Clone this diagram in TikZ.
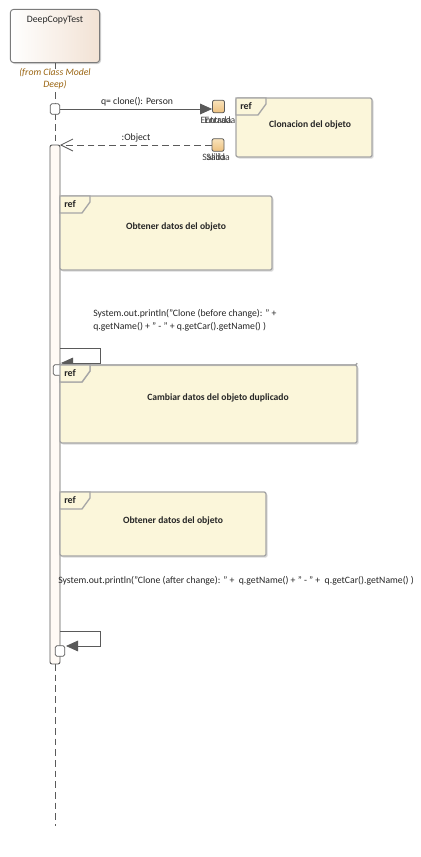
\documentclass[tikz,border=0pt]{standalone}
\usepackage{fontspec}
\setmainfont{Carlito}
\usetikzlibrary{arrows.meta,shadows}
\definecolor{refFill}{HTML}{FBF6DA}
\definecolor{refLine}{HTML}{A6A6A6}
\definecolor{lineC}{HTML}{5A5A5A}
\definecolor{hdrA}{HTML}{FFFFFF}
\definecolor{hdrB}{HTML}{F2E2D4}
\definecolor{gateA}{HTML}{F9E3BB}
\definecolor{gateB}{HTML}{EDC07E}
\definecolor{noteC}{HTML}{9A6410}
\definecolor{actFill}{HTML}{FFFAF5}
\definecolor{txtC}{HTML}{262626}
\tikzset{
  px/.style={x=0.75pt,y=-0.75pt},
  lbl/.style={font=\fontsize{7.3}{9}\selectfont,text=txtC,inner sep=0pt},
  reftitle/.style={font=\fontsize{7.2}{9}\selectfont\bfseries,text=txtC,inner sep=0pt},
  refbox/.style={draw=refLine,line width=1pt,fill=refFill,rounded corners=1.5pt,
     drop shadow={shadow xshift=1.2pt,shadow yshift=-1.2pt,opacity=0.35,fill=black!40}},
  gatebox/.style={draw=lineC,line width=0.6pt,rounded corners=1.5pt,top color=gateA,bottom color=gateB,minimum width=9pt,minimum height=9.5pt,inner sep=0pt},
  smallsq/.style={draw=lineC,line width=0.6pt,fill=white,rounded corners=1.2pt,minimum width=7pt,minimum height=8pt,inner sep=0pt},
  msg/.style={draw=lineC,line width=0.6pt},
}
\newcommand{\refframe}[5]{% name, x1,y1,x2,y2
  \draw[refbox] (#2,#3) rectangle (#4,#5);
  \draw[refLine,line width=1pt,fill=refFill] (#2,#3) -- (#2+30,#3) -- (#2+30,#3+6) -- (#2+22,#3+17) -- (#2,#3+17) -- cycle;
  \node[lbl,anchor=west,font=\fontsize{7.5}{9}\selectfont\bfseries] at (#2+4,#3+8.5) {ref};
}
\begin{document}
\begin{tikzpicture}[px]
\useasboundingbox (0,0) rectangle (421,857);
\fill[white] (0,0) rectangle (421,857);
% header
\node[draw=lineC!80,line width=0.7pt,rounded corners=2.5pt,left color=hdrA,right color=hdrB,
  minimum width=67pt,minimum height=40pt,inner sep=0pt,
  drop shadow={shadow xshift=1pt,shadow yshift=-1pt,opacity=0.35}] (hdr) at (55,36) {};
\node[lbl,anchor=north] (hdrt) at (55,16) {DeepCopyTest};
\node[lbl,text=noteC,font=\fontsize{7.3}{9}\selectfont\itshape,align=center] (from) at (55,79) {(from Class Model\\[0pt]Deep)};
% lifeline
\draw[lineC,line width=0.7pt] (hdr.south) -- (55,69);
\draw[lineC,line width=0.7pt,dash pattern=on 5pt off 3pt] (55,92) -- (55,145);
\draw[lineC,line width=0.7pt,dash pattern=on 5pt off 3pt] (55,664) -- (55,826);
% activation bar
\draw[lineC,line width=0.7pt,fill=actFill,rounded corners=1.5pt] (50,145) rectangle (60,664);
\coordinate (actTop) at (60,145);
% first message
\node[smallsq] (s1) at (55,109) {};
\node[gatebox] (g1) at (218.5,106.5) {};
\node[gatebox] (g2) at (218,145) {};
\draw[msg,-{Triangle[length=9pt,width=8pt]}] (s1.east) -- (s1.east -| g1.west);
\node[lbl,anchor=south] (m1) at (137,106) {q= clone(): Person};
\node[lbl,anchor=north,text=black!75] (e1) at (216,116) {Entrada};
\node[lbl,anchor=north,text=black!75] (e2) at (220,116) {Entrada};
% return message
\draw[msg,dash pattern=on 5pt off 3pt,-{Straight Barb[length=9pt,width=9pt,line width=0.6pt]}] (g2.west) -- (actTop);
\node[lbl,anchor=south] (m2) at (136,142) {:Object};
\node[lbl,anchor=north,text=black!75] (sa1) at (214,153) {Salida};
\node[lbl,anchor=north,text=black!75] (sa2) at (218,153) {Salida};
% ref Clonacion
\refframe{r0}{236}{98}{372}{157}
\node[reftitle] (r0t) at (310,125) {Clonacion del objeto};
% ref Obtener 1
\refframe{r1}{60}{196}{272}{270}
\node[reftitle] (r1t) at (176,227) {Obtener datos del objeto};
% println before
\node[lbl,anchor=north west,align=left] (p1) at (93,309) {System.out.println("Clone (before change): " +\\[1pt]q.getName() + " - " + q.getCar().getName() )};
% self message 1
\coordinate (sm1a) at (60,348);
\coordinate (sm1b) at (100,348);
\coordinate (sm1c) at (100,363);
\coordinate (sm1d) at (61,363);
\draw[msg,-{Triangle[length=9pt,width=8pt]}] (sm1a) -- (sm1b) -- (sm1c) -- (sm1d);
% ref Cambiar
\refframe{r2}{60}{365}{357}{443}
\node[smallsq] (s2) at (58,370) {};
\refframe{r2b}{60}{365}{357}{365}
\node[reftitle] (r2t) at (218,398) {Cambiar datos del objeto duplicado};
% ref Obtener 2
\refframe{r3}{60}{492}{266}{556}
\node[reftitle] (r3t) at (173,521) {Obtener datos del objeto};
% println after
\node[lbl,anchor=north west] (p2) at (58,576) {System.out.println("Clone (after change): " +\ \ q.getName() + " - " +\ \ q.getCar().getName() )};
% self message 2
\coordinate (sm2a) at (60,631);
\coordinate (sm2b) at (100,631);
\coordinate (sm2c) at (100,646);
\node[smallsq] (s3) at (60,651) {};
\draw[msg,-{Triangle[length=9pt,width=8pt]}] (sm2a) -- (sm2b) -- (sm2c) -- (66,646);
\end{tikzpicture}
\end{document}
